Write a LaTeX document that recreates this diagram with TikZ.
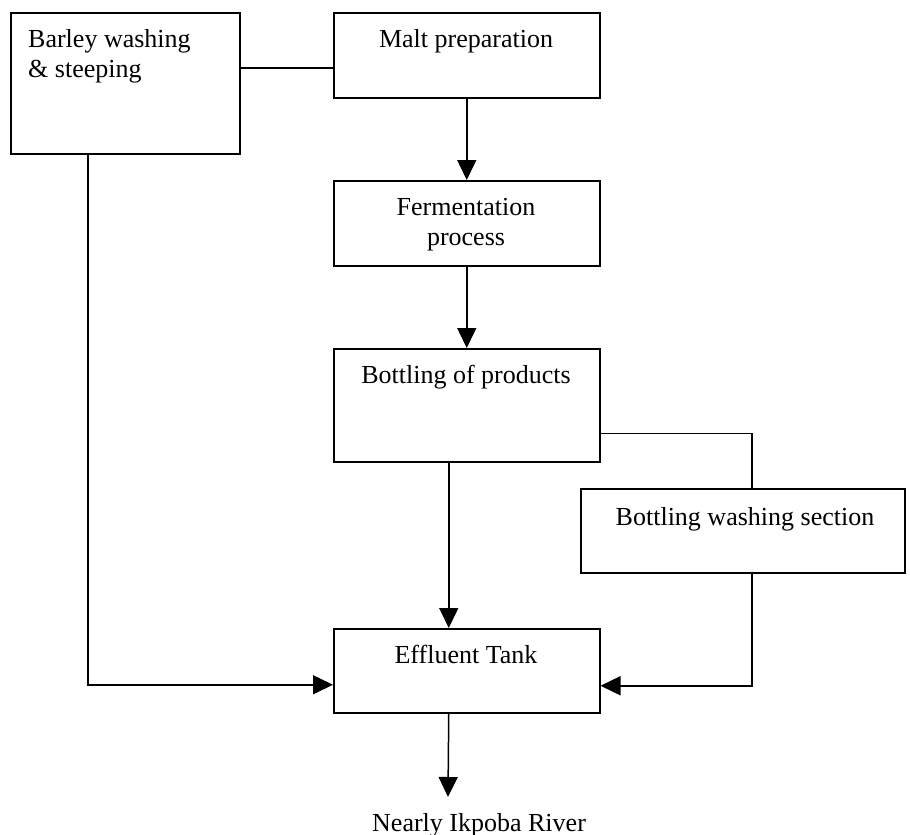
\documentclass[tikz,border=0pt]{standalone}
\usepackage{fontspec}
\setmainfont{Liberation Serif}
\usetikzlibrary{arrows.meta}
\begin{document}
\begin{tikzpicture}[x=1pt,y=-1pt,
  box/.style={draw, line width=1.5pt, inner sep=0pt, anchor=north west},
  lbl/.style={inner sep=0pt, anchor=base, font=\fontsize{26}{30}\selectfont},
  conn/.style={line width=1.5pt},
  arr/.style={conn, -{Triangle[length=20pt,width=19pt]}}]
\useasboundingbox (0,0) rectangle (910,835);
% boxes
\node[box, minimum width=229pt, minimum height=141pt] (barley) at (10,12) {};
\node[box, minimum width=266pt, minimum height=85pt] (malt) at (333,12) {};
\node[box, minimum width=266pt, minimum height=85pt] (ferm) at (333,180) {};
\node[box, minimum width=266pt, minimum height=113pt] (bottling) at (333,348) {};
\node[box, minimum width=324pt, minimum height=84pt] (washing) at (580,488) {};
\node[box, minimum width=266pt, minimum height=84pt] (effluent) at (333,628) {};
% texts
\node[lbl, anchor=base west] (barleyA) at (28,47) {Barley washing};
\node[lbl, anchor=base west] (barleyB) at (28,77) {\& steeping};
\node[lbl] (maltT) at (466,47) {Malt preparation};
\node[lbl] (fermA) at (466,215) {Fermentation};
\node[lbl] (fermB) at (466,245) {process};
\node[lbl] (bottT) at (466,383) {Bottling of products};
\node[lbl] (washT) at (745,525) {Bottling washing section};
\node[lbl] (efflT) at (466,663) {Effluent Tank};
\node[lbl, anchor=base west] (river) at (372,831) {Nearly Ikpoba River};
\coordinate (out) at (448,797);
% connectors
\draw[conn] ([yshift=-56pt]barley.north east) -- ([yshift=-56pt]malt.north west);
\draw[arr] (malt.south) -- (ferm.north);
\draw[arr] (ferm.south) -- (bottling.north);
\draw[arr] ([xshift=-18pt]bottling.south) -- ([xshift=-18pt]effluent.north);
\draw[conn] ([yshift=29pt]bottling.south east) -| ([xshift=9pt]washing.north);
\draw[arr] ([xshift=9pt]washing.south) |- ([yshift=-15pt]effluent.east);
\draw[arr] ([xshift=-37.5pt]barley.south) |- ([yshift=-14pt]effluent.west);
\draw[arr] ([xshift=-18pt]effluent.south) -- (out);
\end{tikzpicture}
\end{document}
